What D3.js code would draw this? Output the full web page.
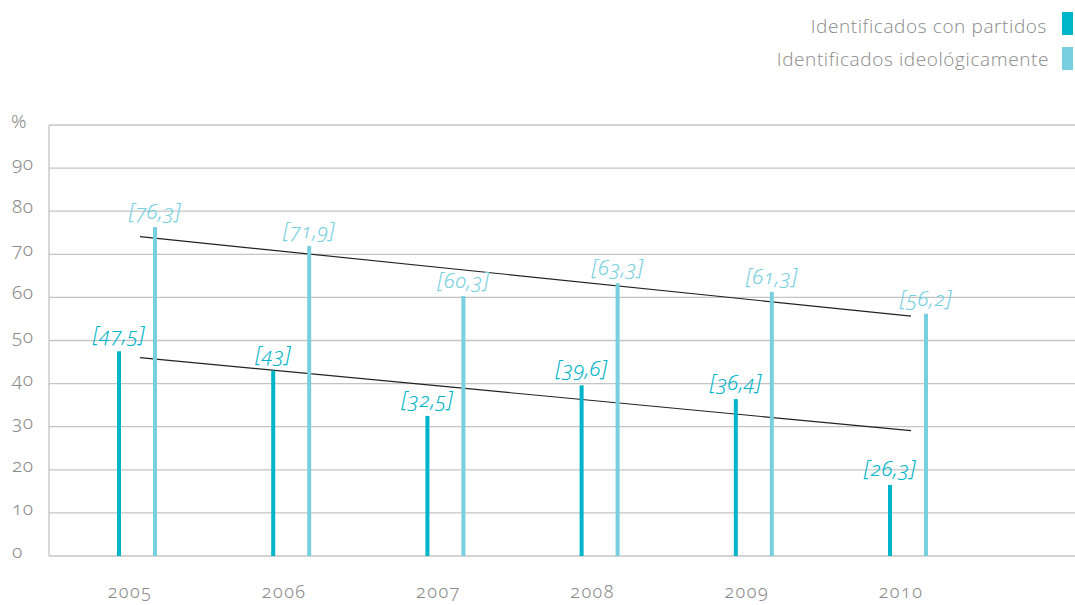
<!DOCTYPE html>
<html>
<head>
<meta charset="utf-8">
<script src="https://cdn.jsdelivr.net/npm/d3@7"></script>
<style>
  html, body { margin: 0; padding: 0; background: #fff; }
  svg { display: block; }
  .num { font-family: "Noto Sans", "Open Sans", sans-serif; font-variant-numeric: oldstyle-nums; font-feature-settings: "onum" 1; }
</style>
</head>
<body>
<script>
// ---- data ----
const years = ["2005", "2006", "2007", "2008", "2009", "2010"];
const partidos = [47.5, 43, 32.5, 39.6, 36.4, 26.3];          // labelled values
const partidosBar = [47.5, 43, 32.5, 39.6, 36.4, 16.5];       // bar heights as drawn in the picture
const ideologicos = [76.3, 71.9, 60.3, 63.3, 61.3, 56.2];
const partidosLabels = ["[47,5]", "[43]", "[32,5]", "[39,6]", "[36,4]", "[26,3]"];
const ideologicosLabels = ["[76,3]", "[71,9]", "[60,3]", "[63,3]", "[61,3]", "[56,2]"];
const yTicks = [0, 10, 20, 30, 40, 50, 60, 70, 80, 90];
const seriesNames = ["Identificados con partidos", "Identificados ideológicamente"];
const colors = ["#00b4c9", "#78cfdf"];

const W = 1075, H = 605;
const svg = d3.select("body").append("svg").attr("width", W).attr("height", H);

const plotLeft = 49, plotRight = W, plotTop = 125, plotBottom = 556;
const y = d3.scaleLinear().domain([0, 100]).range([plotBottom, plotTop]);
const x = d3.scalePoint().domain(years).range([137, 908]);
const off = 18, barW = 4;

// grid
svg.append("g").selectAll("line").data(yTicks.concat([100])).join("line")
  .attr("x1", plotLeft).attr("x2", plotRight)
  .attr("y1", d => y(d)).attr("y2", d => y(d))
  .attr("stroke", "#c4c4c4").attr("stroke-width", 1.3);
svg.append("line").attr("x1", plotLeft).attr("x2", plotLeft)
  .attr("y1", y(100)).attr("y2", y(0)).attr("stroke", "#c4c4c4").attr("stroke-width", 1.3);

// y tick labels
svg.append("g").selectAll("text").data(yTicks).join("text")
  .attr("class", "num")
  .attr("x", 12).attr("y", d => y(d) - 3)
  .attr("dominant-baseline", "middle")
  .attr("font-size", 19).attr("font-weight", 300).attr("fill", "#8a8a8a")
  .attr("letter-spacing", 0.5)
  .text(d => d);
svg.append("text").attr("class", "num").attr("x", 11).attr("y", y(100) - 2)
  .attr("dominant-baseline", "middle")
  .attr("font-size", 19).attr("font-weight", 300).attr("fill", "#8a8a8a").text("%");

// x labels
svg.append("g").selectAll("text").data(years).join("text")
  .attr("class", "num")
  .attr("x", d => x(d) - 7).attr("y", 598)
  .attr("text-anchor", "middle")
  .attr("font-size", 18).attr("font-weight", 300).attr("fill", "#8a8a8a")
  .attr("letter-spacing", 1.5)
  .text(d => d);

// trend lines (least squares)
function fit(vals) {
  const n = vals.length, xs = d3.range(n);
  const mx = d3.mean(xs), my = d3.mean(vals);
  const b = d3.sum(xs, (xi, i) => (xi - mx) * (vals[i] - my)) / d3.sum(xs, xi => (xi - mx) ** 2);
  const a = my - b * mx;
  return [a, a + b * (n - 1)];
}
[ideologicos, partidos].forEach(vals => {
  const [v0, v1] = fit(vals);
  svg.append("line")
    .attr("x1", x(years[0]) + 3).attr("y1", y(v0))
    .attr("x2", x(years[years.length - 1]) + 3).attr("y2", y(v1))
    .attr("stroke", "#222").attr("stroke-width", 1.2);
});

// bars
svg.append("g").selectAll("rect").data(years).join("rect")
  .attr("x", d => x(d) - off - barW / 2).attr("width", barW)
  .attr("y", (d, i) => y(partidosBar[i])).attr("height", (d, i) => y(0) - y(partidosBar[i]))
  .attr("fill", colors[0]);
svg.append("g").selectAll("rect").data(years).join("rect")
  .attr("x", d => x(d) + off - barW / 2).attr("width", barW)
  .attr("y", (d, i) => y(ideologicos[i])).attr("height", (d, i) => y(0) - y(ideologicos[i]))
  .attr("fill", colors[1]);

// value labels
svg.append("g").selectAll("text").data(years).join("text")
  .attr("class", "num")
  .attr("x", d => x(d) - off).attr("y", (d, i) => y(partidosBar[i]) - 9)
  .attr("text-anchor", "middle").attr("font-size", 21).attr("font-style", "italic").attr("font-weight", 300)
  .attr("letter-spacing", 0.5)
  .attr("fill", colors[0]).text((d, i) => partidosLabels[i]);
svg.append("g").selectAll("text").data(years).join("text")
  .attr("class", "num")
  .attr("x", d => x(d) + off).attr("y", (d, i) => y(ideologicos[i]) - 8)
  .attr("text-anchor", "middle").attr("font-size", 21).attr("font-style", "italic").attr("font-weight", 300)
  .attr("letter-spacing", 0.5)
  .attr("fill", colors[1]).text((d, i) => ideologicosLabels[i]);

// legend
const leg = svg.append("g");
seriesNames.forEach((name, i) => {
  leg.append("rect").attr("x", 1062).attr("y", 12 + i * 35).attr("width", 11).attr("height", 23).attr("fill", colors[i]);
  leg.append("text").attr("x", 1047 + i * 2).attr("y", 33 + i * 33)
    .attr("text-anchor", "end")
    .attr("font-family", "'Open Sans', 'Noto Sans', sans-serif")
    .attr("font-weight", 300).attr("font-size", 19).attr("fill", "#8a8a8a")
    .attr("letter-spacing", 0.6)
    .text(name);
});
</script>
</body>
</html>
